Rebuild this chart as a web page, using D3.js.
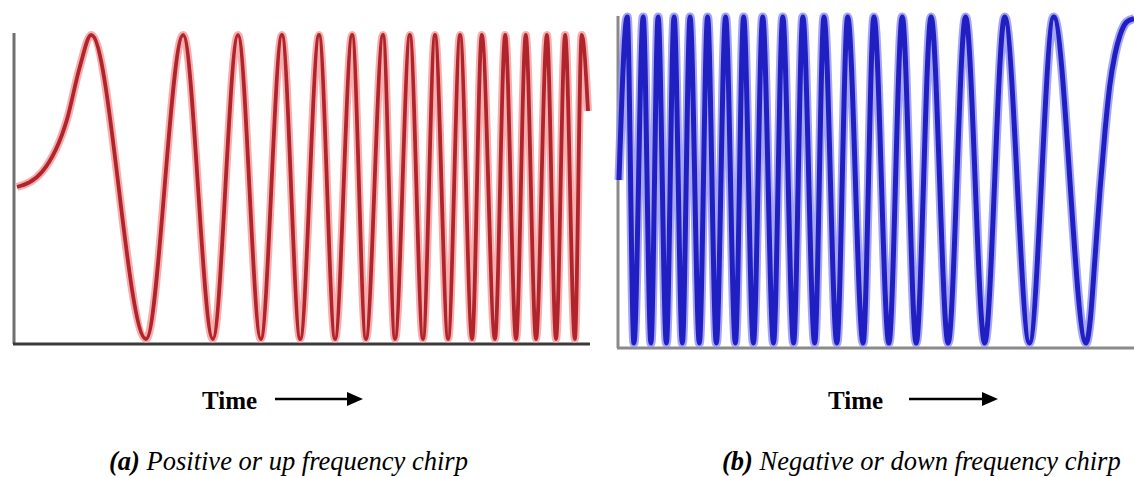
<!DOCTYPE html>
<html>
<head>
<meta charset="utf-8">
<script src="https://cdn.jsdelivr.net/npm/d3@7"></script>
<style>
  html, body { margin: 0; padding: 0; background: #fff; }
  svg { display: block; }
</style>
</head>
<body>
<svg id="chart" width="1134" height="477"></svg>
<script>
// ---- Data (time in % of panel duration, amplitude normalised -1..1) ----
// Up chirp: slow initial rise, then successive extrema (peak/trough alternating)
const upTimes = [0, 4.4, 8.8, 11.0, 13.0, 22.6, 29.1, 34.3, 38.7, 42.7,
  46.4, 49.6, 52.9, 55.7, 58.7, 61.1, 64.1, 66.2, 68.8, 71.1, 73.2, 75.5, 77.6, 79.7,
  81.4, 83.7, 85.5, 87.4, 89.1, 90.9, 92.8, 94.4, 96.0, 97.7, 98.9, 100];
const upAmps = [0, 0.1, 0.45, 0.79, 1, -1, 1, -1, 1, -1, 1, -1, 1,
  -1, 1, -1, 1, -1, 1, -1, 1, -1, 1, -1, 1, -1, 1, -1, 1, -1, 1, -1, 1, -1, 1, 0.5];

// Down chirp: successive extrema, ending on the slow final rise
const downTimes = [0, 1.6, 2.9, 4.7, 6.2, 7.6, 9.2, 10.7, 12.3, 13.8, 15.6, 17.2, 18.9,
  20.7, 22.6, 24.2, 26.1, 27.9, 30.0, 31.8, 33.9, 35.7, 38.0, 39.8, 42.3, 44.4, 47.4,
  49.5, 52.4, 55.0, 57.7, 60.6, 63.9, 67.3, 71.0, 74.9, 79.7, 84.4, 90.7, 91.5, 92.4,
  93.4, 94.4, 95.3, 96.3, 97.3, 98.6, 100];
const downAmps = [0, 1, -1, 1, -1, 1, -1, 1, -1, 1, -1, 1, -1, 1, -1, 1, -1, 1, -1, 1, -1,
  1, -1, 1, -1, 1, -1, 1, -1, 1, -1, 1, -1, 1, -1, 1, -1, 1, -1, -0.86, -0.49, -0.06,
  0.31, 0.58, 0.77, 0.89, 0.97, 0.99];

const axisLabel = "Time";
const captions = [
  { tag: "(a)", text: " Positive or up frequency chirp" },
  { tag: "(b)", text: " Negative or down frequency chirp" }
];

// ---- Layout ----
const svg = d3.select("#chart");

const panels = [
  { times: upTimes, amps: upAmps, x0: 17, x1: 588, yTop: 35, yBot: 339,
    axisX: 14, axisTop: 33, axisY: 344, axisEnd: 590,
    vColor: "#707070", hColor: "#3a3a3a",
    halo: "#f59a9a", stroke: "#b0242c", haloW: 8, strokeW: 3.8,
    labelX: 202, arrowX0: 275, arrowX1: 363, capX: 109 },
  { times: downTimes, amps: downAmps, x0: 619, x1: 1134, yTop: 17, yBot: 343,
    axisX: 618, axisTop: 16, axisY: 348, axisEnd: 1134,
    vColor: "#8a8a8a", hColor: "#8a8a8a",
    halo: "#9090f2", stroke: "#2020c2", haloW: 9, strokeW: 5,
    labelX: 828, arrowX0: 909, arrowX1: 998, capX: 722 }
];

panels.forEach((p, i) => {
  const g = svg.append("g");
  const x = d3.scaleLinear().domain([0, 100]).range([p.x0, p.x1]);
  const y = d3.scaleLinear().domain([-1, 1]).range([p.yBot, p.yTop]);
  const pts = p.times.map((t, k) => [t, p.amps[k]]);
  const line = d3.line().x(d => x(d[0])).y(d => y(d[1])).curve(d3.curveMonotoneX);

  // axes
  g.append("line").attr("x1", p.axisX).attr("x2", p.axisX)
    .attr("y1", p.axisTop).attr("y2", p.axisY)
    .attr("stroke", p.vColor).attr("stroke-width", 3);
  g.append("line").attr("x1", p.axisX - 1).attr("x2", p.axisEnd)
    .attr("y1", p.axisY).attr("y2", p.axisY)
    .attr("stroke", p.hColor).attr("stroke-width", 3);

  // signal
  g.append("path").datum(pts).attr("d", line)
    .attr("fill", "none").attr("stroke", p.halo).attr("stroke-width", p.haloW)
    .attr("stroke-linejoin", "round").attr("opacity", 0.8);
  g.append("path").datum(pts).attr("d", line)
    .attr("fill", "none").attr("stroke", p.stroke).attr("stroke-width", p.strokeW)
    .attr("stroke-linejoin", "round");

  // Time label + arrow
  g.append("text").attr("x", p.labelX).attr("y", 409)
    .attr("font-family", "'Liberation Serif', 'Times New Roman', serif")
    .attr("font-weight", "bold").attr("font-size", 25).attr("fill", "#000")
    .text(axisLabel);
  g.append("line").attr("x1", p.arrowX0).attr("x2", p.arrowX1 - 12)
    .attr("y1", 399).attr("y2", 399).attr("stroke", "#000").attr("stroke-width", 2.5);
  g.append("path")
    .attr("d", `M${p.arrowX1},399 L${p.arrowX1 - 16},392 L${p.arrowX1 - 16},406 Z`)
    .attr("fill", "#000");

  // caption
  const cap = g.append("text").attr("x", p.capX).attr("y", 470)
    .attr("font-family", "'Liberation Serif', 'Times New Roman', serif")
    .attr("font-style", "italic").attr("font-size", 26.5).attr("fill", "#000");
  cap.append("tspan").attr("font-weight", "bold").text(captions[i].tag);
  cap.append("tspan").text(captions[i].text);
});
</script>
</body>
</html>
